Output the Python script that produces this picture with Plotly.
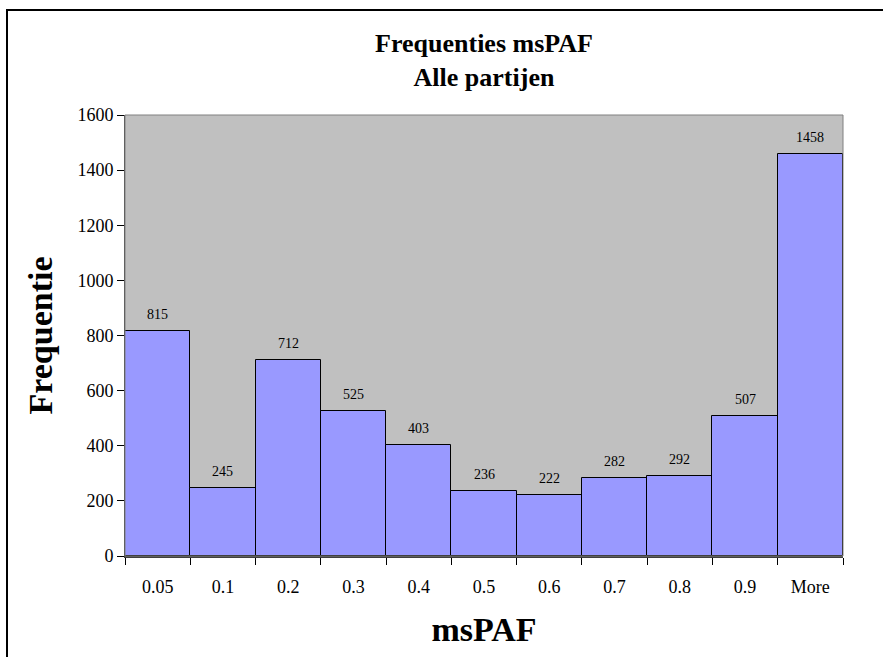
import plotly.graph_objects as go

categories = ["0.05", "0.1", "0.2", "0.3", "0.4", "0.5", "0.6", "0.7", "0.8", "0.9", "More"]
frequencies = [815, 245, 712, 525, 403, 236, 222, 282, 292, 507, 1458]
y_ticks = [0, 200, 400, 600, 800, 1000, 1200, 1400, 1600]

FONT = "Liberation Serif, Times New Roman, serif"

fig = go.Figure(go.Bar(
    x=categories, y=frequencies,
    marker=dict(color="#9999FF", line=dict(color="black", width=1)),
    width=1.0,
    cliponaxis=False,
))

# value labels, placed by category index on the category axis
for i, v in enumerate(frequencies):
    fig.add_annotation(x=i, y=v, xref="x", yref="y", text=str(v), showarrow=False,
                       yanchor="bottom", yshift=7,
                       font=dict(family=FONT, size=14, color="black"))

L, R, T, B = 125, 40, 115, 101
W, H = 883, 657
pw, ph = W - L - R, H - T - B

def px(x):
    return (x - L) / pw

def py(y):
    return (H - B - y) / ph

fig.update_layout(
    width=W, height=H,
    margin=dict(l=L, r=R, t=T, b=B, pad=0),
    paper_bgcolor="white",
    plot_bgcolor="#C0C0C0",
    bargap=0,
    showlegend=False,
    font=dict(family=FONT, color="black"),
    title=dict(
        text="Frequenties msPAF<br>Alle partijen",
        x=0.5, xanchor="center", y=1 - 52 / H, yanchor="middle",
        xref="paper",
        font=dict(family=FONT, size=26, color="black", weight="bold"),
    ),
    xaxis=dict(
        type="category",
        tickson="boundaries",
        ticks="outside", ticklen=7, tickcolor="black", tickwidth=1,
        ticklabelstandoff=13,
        showline=True, linecolor="#404040", linewidth=2,
        showgrid=False,
        tickfont=dict(family=FONT, size=18, color="black"),
        title=dict(text="msPAF", font=dict(family=FONT, size=34, color="black", weight="bold"), standoff=22),
        range=[-0.5, 10.5],
    ),
    yaxis=dict(
        range=[0, 1600],
        tickvals=y_ticks,
        ticks="outside", ticklen=7, tickcolor="black", tickwidth=1,
        showline=True, linecolor="#404040", linewidth=1,
        showgrid=False, zeroline=False,
        tickfont=dict(family=FONT, size=18, color="black"),
        title=dict(text="Frequentie", font=dict(family=FONT, size=34, color="black", weight="bold"), standoff=14),
    ),
    shapes=[
        dict(type="rect", xref="paper", yref="paper", x0=0, y0=0, x1=1, y1=1,
             line=dict(color="#808080", width=1), layer="above"),
        dict(type="rect", xref="paper", yref="paper",
             x0=px(7), x1=px(900), y0=py(10), y1=py(700),
             line=dict(color="black", width=2), layer="above"),
    ],
)

fig.write_html("out.html")
